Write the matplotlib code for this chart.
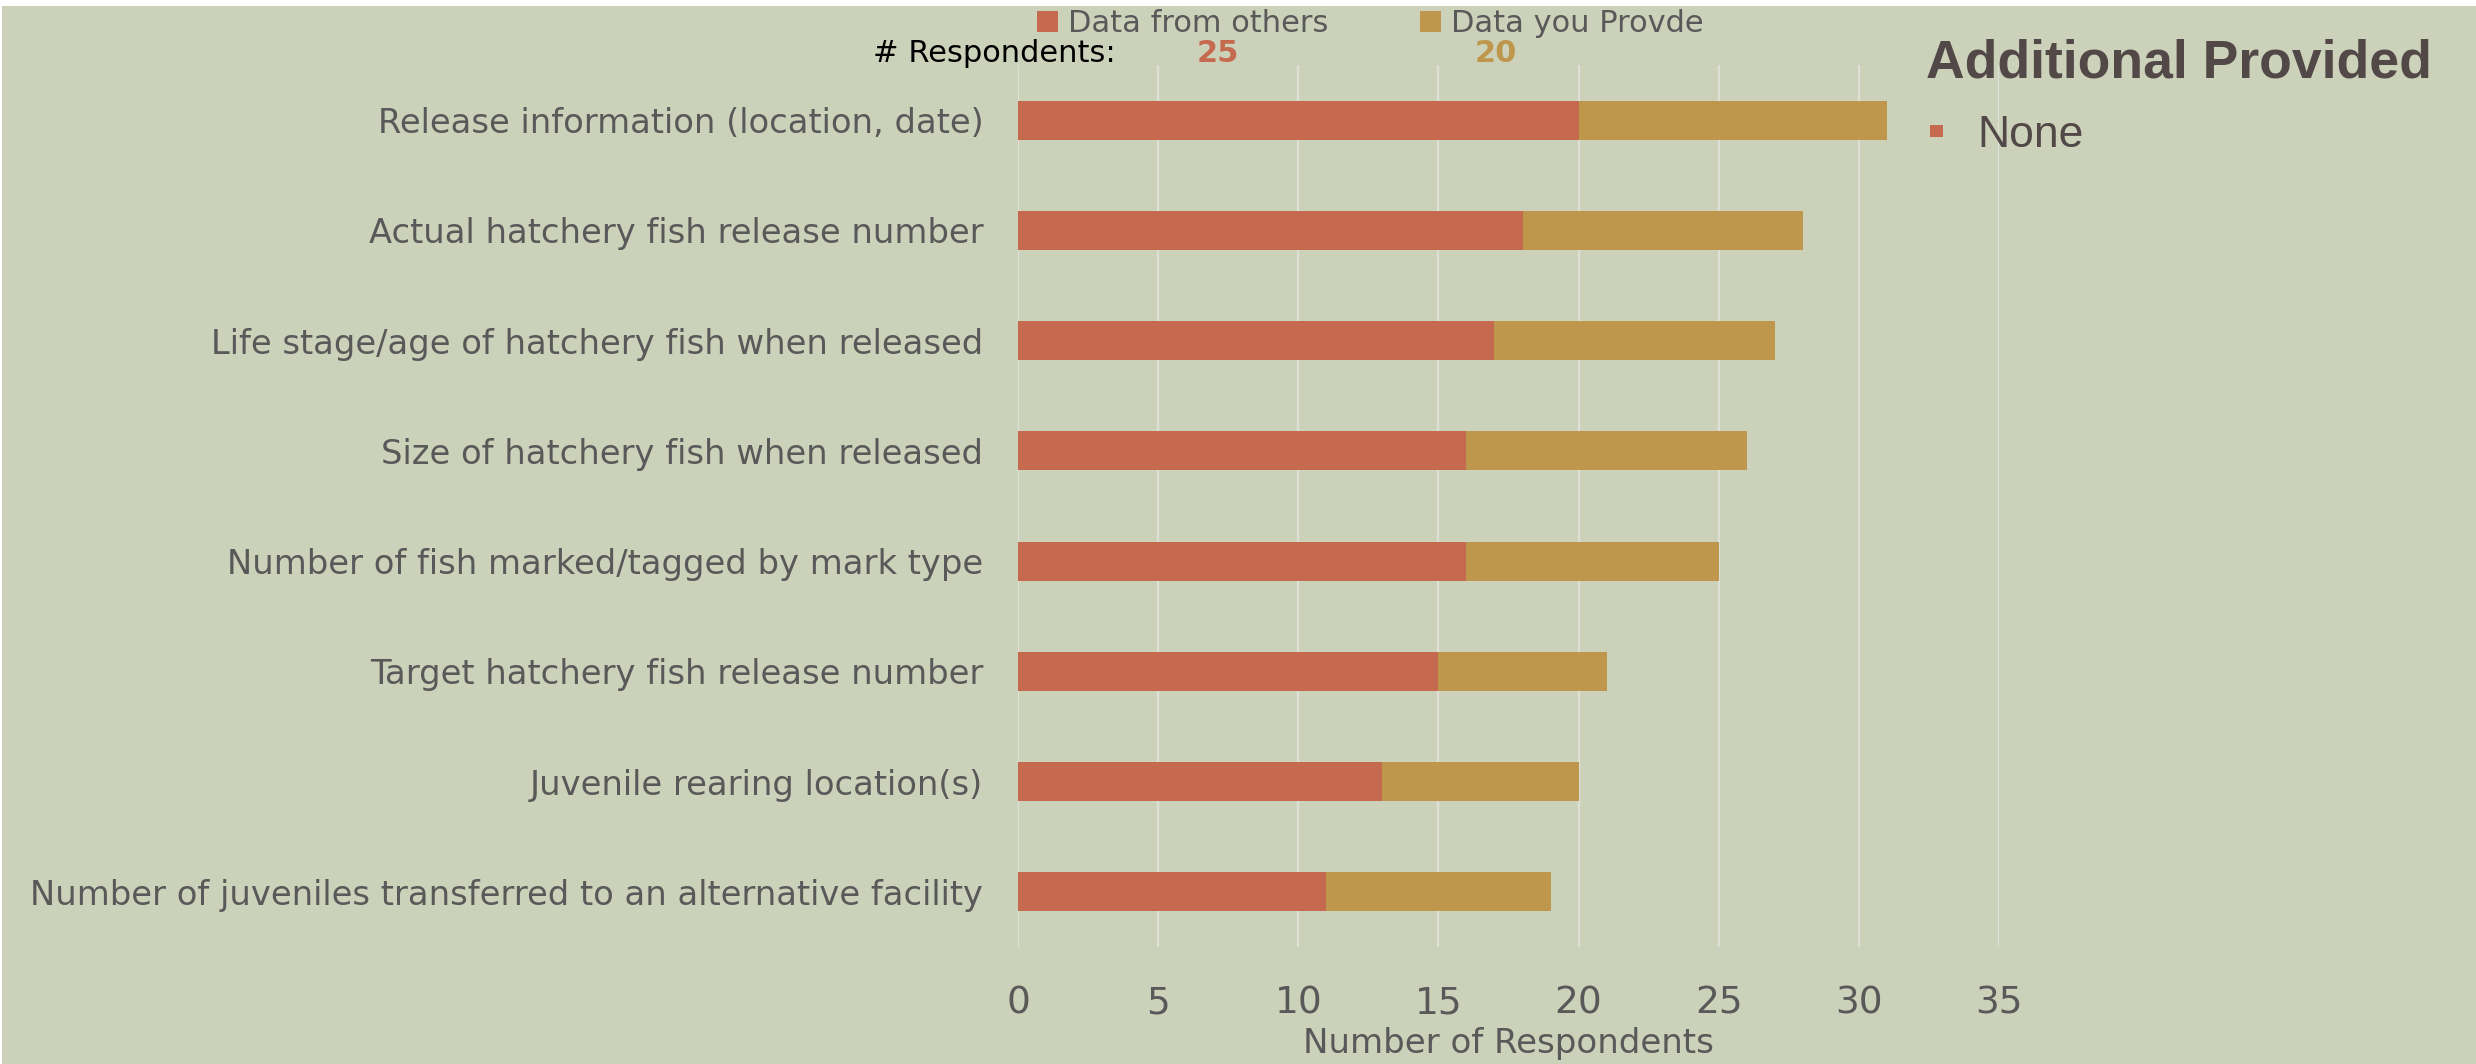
import matplotlib.pyplot as plt
from matplotlib.patches import Rectangle

# Categories top to bottom
categories = [
    'Release information (location, date)',
    'Actual hatchery fish release number',
    'Life stage/age of hatchery fish when released',
    'Size of hatchery fish when released',
    'Number of fish marked/tagged by mark type',
    'Target hatchery fish release number',
    'Juvenile rearing location(s)',
    'Number of juveniles transferred to an alternative facility',
]
from_others = [20, 18, 17, 16, 16, 15, 13, 11]
you_provide = [11, 10, 10, 10, 9, 6, 7, 8]
series_names = ['Data from others', 'Data you Provde']
respondents = [25, 20]
x_ticks = [0, 5, 10, 15, 20, 25, 30, 35]

BG = '#CCD2BA'
RED = '#C5694F'
GOLD = '#BF974C'
GREY = '#595959'
DARK = '#524847'
FONT = ['DejaVu Sans']

W, H = 2476, 1064
fig = plt.figure(figsize=(W / 100, H / 100), dpi=100, facecolor='white')
# green panel (thin white strip at top / left edge)
fig.patches.append(Rectangle((2 / W, 0), 1, 1 - 6 / H, transform=fig.transFigure,
                             facecolor=BG, edgecolor='none', zorder=-10))

ax = fig.add_axes([1018 / W, 1 - 947 / H, (1999 - 1018) / W, (947 - 65) / H])
ax.patch.set_alpha(0)

ypos = list(range(len(categories)))
b1 = ax.barh(ypos, from_others, height=0.355, color=RED, zorder=3)
b2 = ax.barh(ypos, you_provide, left=from_others, height=0.355, color=GOLD, zorder=3)

ax.set_ylim(len(categories) - 0.5, -0.5)
ax.set_xlim(0, 35)
ax.set_xticks(x_ticks)
ax.set_yticks(ypos)
ax.set_yticklabels(categories, fontsize=24.3, family=FONT, color=GREY)
ax.set_xticklabels([str(v) for v in x_ticks], fontsize=27, family=FONT, color=GREY)
ax.tick_params(axis='both', length=0)
ax.tick_params(axis='y', pad=25)
ax.tick_params(axis='x', pad=28)
ax.grid(axis='x', color='#DEE0D8', linewidth=1.6, zorder=0)
for s in ax.spines.values():
    s.set_visible(False)
ax.set_xlabel('Number of Respondents', fontsize=24.5, family=FONT, color=GREY, labelpad=4)

# top legend
leg = fig.legend([b1, b2], series_names, loc='center left',
                 bbox_to_anchor=(1037 / W, 1 - 24 / H), ncol=2, frameon=False,
                 prop={'family': FONT, 'size': 22}, handlelength=0.69,
                 handleheight=0.69, handletextpad=0.33, columnspacing=3.0,
                 borderpad=0, borderaxespad=0)
for t in leg.get_texts():
    t.set_color(GREY)

fig.text(873 / W, 1 - 53 / H, '# Respondents:', fontsize=22, family=FONT,
         color='black', va='center', ha='left')
fig.text(1218 / W, 1 - 53 / H, str(respondents[0]), fontsize=22, family=FONT,
         weight='bold', color=RED, va='center', ha='center')
fig.text(1496 / W, 1 - 53 / H, str(respondents[1]), fontsize=22, family=FONT,
         weight='bold', color=GOLD, va='center', ha='center')

# right side "Additional Provided" block
fig.text(1926 / W, 1 - 77 / H, 'Additional Provided', fontsize=38.5,
         family='Liberation Sans', weight='bold', color=DARK, va='baseline', ha='left')
fig.patches.append(Rectangle((1930 / W, 1 - 137 / H), 13 / W, 12 / H,
                             transform=fig.transFigure, facecolor=RED, edgecolor='none'))
fig.text(1977 / W, 1 - 147 / H, 'None', fontsize=32, family='Liberation Sans',
         color=DARK, va='baseline', ha='left')

fig.savefig('out.png', dpi=100, facecolor=fig.get_facecolor())
